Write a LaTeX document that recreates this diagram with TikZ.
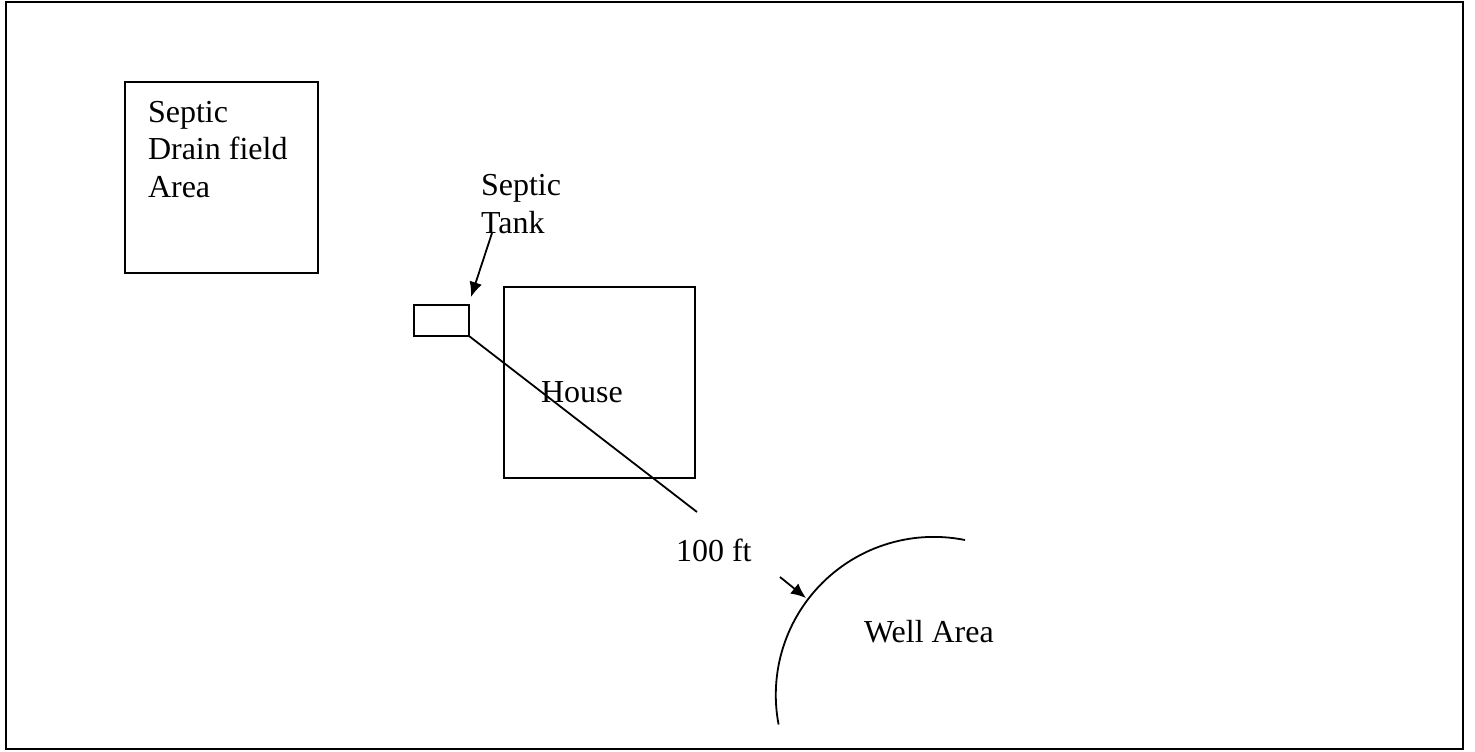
\documentclass[tikz,border=0pt]{standalone}
\usepackage{fontspec}
\setmainfont{Liberation Serif}
\usetikzlibrary{arrows.meta}
\begin{document}
\begin{tikzpicture}[x=0.5pt,y=-0.5pt,
  line width=0.9pt,
  box/.style={draw, inner sep=0pt, outer sep=0pt, anchor=north west},
  lbl/.style={inner sep=0pt, outer sep=0pt, font=\fontsize{16pt}{18.6pt}\selectfont},
  pointer/.style={-{Latex[length=7.5pt,width=6.5pt]}}]
\useasboundingbox (0,0) rectangle (1475,751);
\node[box, minimum width=728.5pt, minimum height=373.5pt] (frame) at (6,2) {};
\node[box, minimum width=96.5pt, minimum height=95.5pt] (drain) at (125,82) {};
\node[box, minimum width=27.5pt, minimum height=15.5pt] (tank) at (414,305) {};
\node[box, minimum width=95.5pt, minimum height=95.5pt] (house) at (504,287) {};
\node[lbl, anchor=base west, align=left] (drainlbl) at (148,197) {Septic\\Drain field\\Area};
\node[lbl, anchor=base west, align=left] (tanklbl) at (481,233) {Septic\\Tank};
\node[lbl, anchor=base west] (houselbl) at (541,402) {House};
\node[lbl, anchor=base west] (dist) at (676,561) {100 ft};
\node[lbl, anchor=base west] (welllbl) at (864,642) {Well Area};
\coordinate (aStart) at (492,233);
\coordinate (aTip) at (471,297);
\coordinate (lineEnd) at (697,512);
\coordinate (bStart) at (780,577);
\coordinate (bTip) at (806,598);
\draw[pointer] (aStart) -- (aTip);
\draw (tank.south east) -- (lineEnd);
\draw[pointer] (bStart) -- (bTip);
\draw (965,540) arc[start angle=-78.6, end angle=-190.8, radius=158];
\end{tikzpicture}
\end{document}
